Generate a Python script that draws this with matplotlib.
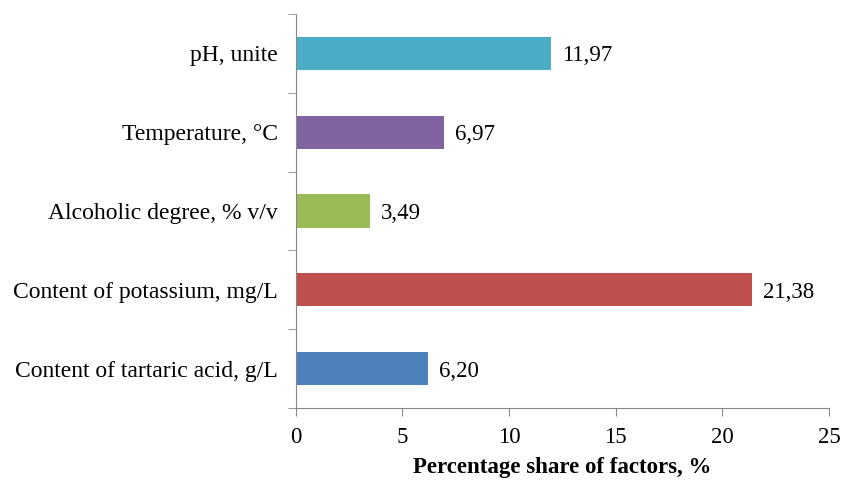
import numpy as np
import matplotlib.pyplot as plt

plt.rcParams['font.family'] = ['Liberation Serif', 'DejaVu Serif']

factors = ['Content of tartaric acid, g/L', 'Content of potassium, mg/L',
           'Alcoholic degree, % v/v', 'Temperature, °C', 'pH, unite']
shares = [6.20, 21.38, 3.49, 6.97, 11.97]
labels = ['6,20', '21,38', '3,49', '6,97', '11,97']
colors = ['#4F81BD', '#C0504D', '#9BBB59', '#8064A2', '#4BACC6']

fig = plt.figure(figsize=(8.47, 4.84), dpi=100)
ax = fig.add_axes([0.349, 0.157, 0.630, 0.814])

y = np.arange(len(factors))
ax.barh(y, shares, height=0.42, color=colors)

for yi, v, t in zip(y, shares, labels):
    ax.text(v + 0.5, yi, t, va='center_baseline', ha='left', fontsize=16.5)

ax.set_xlim(0, 25)
ax.set_ylim(-0.5, 4.5)
ax.set_xticks([0, 5, 10, 15, 20, 25])
ax.set_yticks(y)
ax.set_yticklabels(factors, fontsize=17, va='center_baseline')
ax.set_yticks(np.arange(-0.5, 5, 1), minor=True)
ax.tick_params(axis='y', which='major', length=0, pad=13)
ax.tick_params(axis='y', which='minor', length=6, color='#888888')
ax.tick_params(axis='x', length=6, color='#888888', labelsize=16.5, pad=8)

for s in ['top', 'right']:
    ax.spines[s].set_visible(False)
ax.spines['left'].set_color('#888888')
ax.spines['bottom'].set_color('#888888')

ax.set_xlabel('Percentage share of factors, %', fontsize=16.5, fontweight='bold', labelpad=6)

fig.savefig('out.png', dpi=100)
